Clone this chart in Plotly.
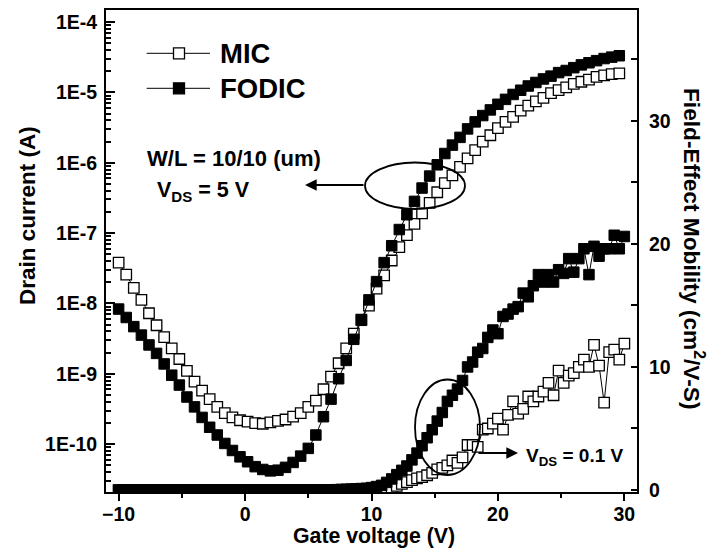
import plotly.graph_objects as go

# ---------------- data ----------------
vg_transfer = [-10.0, -9.4, -8.8, -8.2, -7.6, -7.0, -6.4, -5.8, -5.2, -4.6,
               -4.0, -3.4, -2.8, -2.2, -1.6, -1.0, -0.4, 0.2, 0.8, 1.4,
               2.0, 2.6, 3.2, 3.8, 4.4, 5.0, 5.6, 6.2, 6.8, 7.4,
               8.0, 8.6, 9.2, 9.8, 10.4, 11.0, 11.6, 12.2, 12.8, 13.4,
               14.0, 14.6, 15.2, 15.8, 16.4, 17.0, 17.6, 18.2, 18.8, 19.4,
               20.0, 20.6, 21.2, 21.8, 22.4, 23.0, 23.6, 24.2, 24.8, 25.4,
               26.0, 26.6, 27.2, 27.8, 28.4, 29.0, 29.6]

# log10 of drain current (A)
mic_log_id = [-7.42, -7.59, -7.78, -7.95, -8.14, -8.31, -8.48, -8.64, -8.79, -8.96,
              -9.11, -9.24, -9.36, -9.47, -9.56, -9.62, -9.66, -9.68, -9.70, -9.71,
              -9.69, -9.67, -9.65, -9.61, -9.56, -9.47, -9.38, -9.22, -9.04, -8.85,
              -8.64, -8.43, -8.23, -8.03, -7.79, -7.60, -7.39, -7.20, -7.03, -6.87,
              -6.72, -6.57, -6.42, -6.29, -6.18, -6.06, -5.94, -5.82, -5.70, -5.61,
              -5.51, -5.42, -5.35, -5.26, -5.19, -5.13, -5.08, -5.01, -4.97, -4.93,
              -4.88, -4.85, -4.82, -4.78, -4.76, -4.74, -4.73]
fodic_log_id = [-8.08, -8.20, -8.33, -8.45, -8.59, -8.71, -8.86, -9.02, -9.16, -9.33,
                -9.47, -9.62, -9.76, -9.87, -9.99, -10.09, -10.18, -10.25, -10.32, -10.36,
                -10.38, -10.37, -10.33, -10.26, -10.17, -10.06, -9.87, -9.61, -9.36, -9.07,
                -8.81, -8.51, -8.24, -7.95, -7.69, -7.42, -7.18, -6.95, -6.74, -6.55,
                -6.36, -6.19, -6.03, -5.87, -5.75, -5.64, -5.52, -5.42, -5.33, -5.25,
                -5.17, -5.10, -5.03, -4.97, -4.91, -4.86, -4.81, -4.77, -4.72, -4.69,
                -4.65, -4.61, -4.58, -4.55, -4.52, -4.50, -4.48]

vg_mobility = [-10.0, -9.6, -9.2, -8.8, -8.4, -8.0, -7.6, -7.2, -6.8, -6.4,
               -6.0, -5.6, -5.2, -4.8, -4.4, -4.0, -3.6, -3.2, -2.8, -2.4,
               -2.0, -1.6, -1.2, -0.8, -0.4, 0.0, 0.4, 0.8, 1.2, 1.6,
               2.0, 2.4, 2.8, 3.2, 3.6, 4.0, 4.4, 4.8, 5.2, 5.6,
               6.0, 6.4, 6.8, 7.2, 7.6, 8.0, 8.4, 8.8, 9.2, 9.6,
               10.0, 10.4, 10.8, 11.2, 11.6, 12.0, 12.4, 12.8, 13.2, 13.6,
               14.0, 14.4, 14.8, 15.2, 15.6, 16.0, 16.4, 16.8, 17.2, 17.6,
               18.0, 18.4, 18.8, 19.2, 19.6, 20.0, 20.4, 20.8, 21.2, 21.6,
               22.0, 22.4, 22.8, 23.2, 23.6, 24.0, 24.4, 24.8, 25.2, 25.6,
               26.0, 26.4, 26.8, 27.2, 27.6, 28.0, 28.4, 28.8, 29.2, 29.6,
               30.0]

# field-effect mobility (cm^2/V-s) at V_DS = 0.1 V
mic_mobility = [0.0, 0.0, 0.0, 0.0, 0.0, 0.0, 0.0, 0.0, 0.0, 0.0,
                0.0, 0.0, 0.0, 0.0, 0.0, 0.0, 0.0, 0.0, 0.0, 0.0,
                0.0, 0.0, 0.0, 0.0, 0.0, 0.0, 0.0, 0.0, 0.0, 0.0,
                0.0, 0.0, 0.0, 0.0, 0.0, 0.0, 0.0, 0.0, 0.0, 0.0,
                0.0, 0.0, 0.0, 0.0, 0.0, 0.01, 0.01, 0.01, 0.02, 0.02,
                0.03, 0.05, 0.07, 0.10, 0.14, 0.33, 0.50, 0.65, 0.80, 0.95,
                1.05, 1.20, 1.40, 1.68, 1.80, 2.00, 2.40, 2.20, 2.66, 3.66,
                3.66, 3.50, 4.90, 5.00, 5.40, 5.80, 4.90, 6.10, 7.20, 6.20,
                6.60, 7.60, 7.20, 7.60, 8.00, 8.70, 7.70, 9.70, 8.70, 9.30,
                9.50, 10.0, 10.6, 10.0, 11.8, 10.1, 7.10, 11.2, 11.4, 10.6,
                11.9]
fodic_mobility = [0.0, 0.0, 0.0, 0.0, 0.0, 0.0, 0.0, 0.0, 0.0, 0.0,
                  0.0, 0.0, 0.0, 0.0, 0.0, 0.0, 0.0, 0.0, 0.0, 0.0,
                  0.0, 0.0, 0.0, 0.0, 0.0, 0.0, 0.0, 0.0, 0.0, 0.0,
                  0.0, 0.0, 0.0, 0.0, 0.0, 0.0, 0.0, 0.0, 0.0, 0.0,
                  0.0, 0.01, 0.02, 0.03, 0.05, 0.06, 0.08, 0.10, 0.12, 0.14,
                  0.20, 0.28, 0.38, 0.62, 0.90, 1.25, 1.60, 1.95, 2.45, 3.00,
                  3.60, 4.25, 4.90, 5.60, 6.30, 7.20, 7.70, 8.20, 8.90, 10.0,
                  10.4, 11.2, 11.5, 12.4, 13.0, 12.7, 14.1, 14.3, 14.7, 14.9,
                  16.0, 15.7, 16.6, 17.5, 16.9, 17.5, 16.9, 17.9, 17.6, 18.8,
                  17.7, 18.8, 19.6, 17.5, 19.8, 19.0, 19.6, 19.6, 20.7, 19.6,
                  20.6]

x_tick_vals = [-10, 0, 10, 20, 30]
x_minor_vals = [-5, 5, 15, 25]
y_tick_vals = [1e-10, 1e-9, 1e-8, 1e-7, 1e-6, 1e-5, 1e-4]
y_tick_text = ["1E-10", "1E-9", "1E-8", "1E-7", "1E-6", "1E-5", "1E-4"]
y2_tick_vals = [0, 10, 20, 30]
y2_minor_vals = [5, 15, 25, 35]

id_mic = [10 ** v for v in mic_log_id]
id_fodic = [10 ** v for v in fodic_log_id]

# ---------------- layout helpers ----------------
W, H = 710, 549
L, R, T, B = 106, 637, 10, 492


def px(xp):
    return (xp - L) / (R - L)


def py(yp):
    return (B - yp) / (B - T)


FONT = "Arial, Liberation Sans, sans-serif"


def bold(size):
    return dict(family=FONT, size=size, color="black", weight="bold")


fig = go.Figure()

mk_open = dict(symbol="square", size=10.5, color="white", line=dict(color="black", width=1.3))
mk_fill = dict(symbol="square", size=10.5, color="black", line=dict(color="black", width=1))

fig.add_trace(go.Scatter(x=vg_mobility, y=mic_mobility, yaxis="y2", mode="lines+markers",
                         line=dict(color="black", width=1), marker=mk_open, showlegend=False))
fig.add_trace(go.Scatter(x=vg_mobility, y=fodic_mobility, yaxis="y2", mode="lines+markers",
                         line=dict(color="black", width=1), marker=mk_fill, showlegend=False))
fig.add_trace(go.Scatter(x=vg_transfer, y=id_mic, mode="lines+markers", name="MIC",
                         line=dict(color="black", width=1), marker=mk_open, showlegend=False))
fig.add_trace(go.Scatter(x=vg_transfer, y=id_fodic, mode="lines+markers", name="FODIC",
                         line=dict(color="black", width=1), marker=mk_fill, showlegend=False))

minor_log = [k * 10 ** e for e in range(-11, -4) for k in range(2, 10)] + [2e-4]

tickfont = bold(19.5)

fig.update_layout(
    width=W, height=H,
    margin=dict(l=L, r=W - R, t=T, b=H - B, autoexpand=False),
    paper_bgcolor="white", plot_bgcolor="white",
    font=dict(family=FONT, color="black", weight="bold"),
    xaxis=dict(range=[-11, 31], tickvals=x_tick_vals, ticks="outside", ticklen=7, tickwidth=2,
               tickcolor="black", showline=True, linewidth=2, linecolor="black", mirror=True,
               showgrid=False, zeroline=False, tickfont=tickfont, ticklabelstandoff=-3,
               automargin=False,
               minor=dict(tickvals=x_minor_vals, ticks="outside", ticklen=4, tickwidth=2,
                          tickcolor="black", showgrid=False)),
    yaxis=dict(type="log", range=[-10.68, -3.83], tickvals=y_tick_vals, ticktext=y_tick_text,
               ticks="inside", ticklen=9, tickwidth=2, tickcolor="black", showline=True,
               linewidth=2, linecolor="black", showgrid=False, zeroline=False, tickfont=tickfont,
               ticklabelstandoff=3, automargin=False,
               minor=dict(tickvals=minor_log, ticks="inside", ticklen=5, tickwidth=1.5,
                          tickcolor="black", showgrid=False)),
    yaxis2=dict(overlaying="y", side="right", range=[-0.16, 39], tickvals=y2_tick_vals,
                ticks="inside", ticklen=6, tickwidth=2, tickcolor="black", showline=True,
                linewidth=2, linecolor="black", showgrid=False, zeroline=False, tickfont=tickfont,
                ticklabelstandoff=6, automargin=False,
                minor=dict(tickvals=y2_minor_vals, ticks="inside", ticklen=6, tickwidth=2,
                           tickcolor="black", showgrid=False)),
)

shapes = []
annotations = []

# manual legend
for row_y, fillc, label in [(53.3, "white", "MIC"), (88.3, "black", "FODIC")]:
    shapes.append(dict(type="line", xref="paper", yref="paper", x0=px(146.7), x1=px(210),
                       y0=py(row_y), y1=py(row_y), line=dict(color="black", width=1)))
    shapes.append(dict(type="rect", xref="paper", yref="paper", xsizemode="pixel",
                       ysizemode="pixel", xanchor=px(179), yanchor=py(row_y),
                       x0=-5.5, x1=5.5, y0=-5.5, y1=5.5, fillcolor=fillc,
                       line=dict(color="black", width=1.3)))
    annotations.append(dict(text=label, xref="paper", yref="paper", x=px(218), y=py(row_y),
                            xanchor="left", yanchor="middle", showarrow=False, font=bold(27.5)))

# ellipses
shapes.append(dict(type="circle", xref="paper", yref="paper", x0=px(365), x1=px(465),
                   y0=py(209), y1=py(162.5), line=dict(color="black", width=1.8)))
shapes.append(dict(type="circle", xref="paper", yref="paper", x0=px(415), x1=px(480),
                   y0=py(475), y1=py(379.5), line=dict(color="black", width=1.8)))

# arrows
annotations.append(dict(x=px(305), y=py(185), xref="paper", yref="paper", ax=60, ay=0,
                        text="", showarrow=True, arrowhead=2, arrowsize=1.3, arrowwidth=1.8,
                        arrowcolor="black"))
annotations.append(dict(x=px(518), y=py(453), xref="paper", yref="paper", ax=-41, ay=0,
                        text="", showarrow=True, arrowhead=2, arrowsize=1.3, arrowwidth=1.8,
                        arrowcolor="black"))

# texts
annotations.append(dict(text="W/L = 10/10 (um)", xref="paper", yref="paper", x=px(145), y=py(158),
                        xanchor="left", yanchor="middle", showarrow=False, font=bold(22)))
annotations.append(dict(text="V<sub>DS</sub> = 5 V", xref="paper", yref="paper", x=px(155), y=py(191),
                        xanchor="left", yanchor="middle", showarrow=False, font=bold(21.5)))
annotations.append(dict(text="V<sub>DS</sub> = 0.1 V", xref="paper", yref="paper", x=px(524), y=py(457),
                        xanchor="left", yanchor="middle", showarrow=False, font=bold(19)))

# axis titles
annotations.append(dict(text="Gate voltage (V)", xref="paper", yref="paper", x=px(374), y=py(536),
                        xanchor="center", yanchor="middle", showarrow=False, font=bold(21.3)))
annotations.append(dict(text="Drain current (A)", xref="paper", yref="paper", x=px(27), y=py(216),
                        xanchor="center", yanchor="middle", showarrow=False, textangle=-90,
                        font=bold(22.5)))
annotations.append(dict(text="Field-Effect Mobility (cm<sup>2</sup>/V-S)", xref="paper", yref="paper",
                        x=px(694), y=py(248), xanchor="center", yanchor="middle", showarrow=False,
                        textangle=90, font=bold(22.7)))

fig.update_layout(shapes=shapes, annotations=annotations)

fig.write_html("out.html", config={"displayModeBar": False},
               post_script="document.body.style.margin='0';document.body.style.padding='0';")
